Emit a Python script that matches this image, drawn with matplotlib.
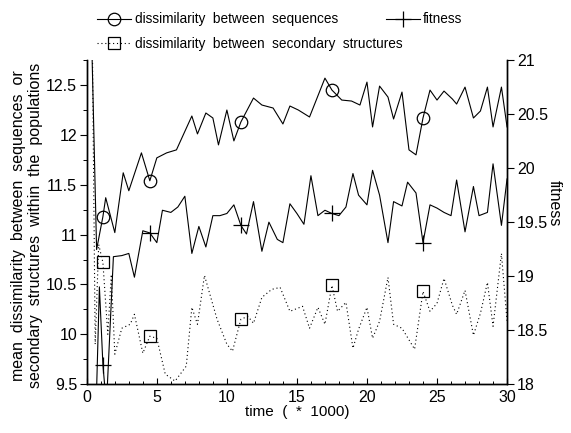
import matplotlib
matplotlib.use('Agg')
import matplotlib.pyplot as plt
from matplotlib.ticker import MultipleLocator
from matplotlib.lines import Line2D

plt.rcParams['font.family'] = ['Liberation Sans', 'DejaVu Sans']

# dissimilarity between sequences (left axis)
seq_t = [0, 0.35, 0.7, 1.15, 1.35, 2.0, 2.6, 3.0, 3.9, 4.5, 5.0, 5.7, 6.4, 7.5, 7.9,
         8.5, 9.0, 9.4, 10.0, 10.5, 11.0, 11.9, 12.5, 13.3, 14.0, 14.5, 15.1, 15.9, 17.0, 17.5,
         18.2, 18.9, 19.5, 20.0, 20.4, 20.9, 21.5, 21.9, 22.5, 23.0, 23.5, 24.0, 24.5, 25.0, 25.5,
         26.1, 26.4, 27.0, 27.6, 28.1, 28.6, 29.0, 29.6, 30.0]
seq = [12.95, 12.95, 10.85, 11.18, 11.37, 11.02, 11.62, 11.44, 11.82, 11.54, 11.77, 11.82, 11.85, 12.19, 12.01,
       12.22, 12.17, 11.90, 12.25, 11.94, 12.13, 12.37, 12.30, 12.27, 12.11, 12.29, 12.25, 12.18, 12.57, 12.45,
       12.35, 12.34, 12.30, 12.53, 12.08, 12.49, 12.38, 12.16, 12.43, 11.85, 11.80, 12.17, 12.45, 12.35, 12.44,
       12.36, 12.31, 12.48, 12.17, 12.24, 12.48, 12.08, 12.48, 12.08]

# dissimilarity between secondary structures (left axis)
st_t = [0, 0.4, 0.6, 0.85, 1.15, 1.5, 1.75, 2.0, 2.5, 3.1, 3.4, 4.0, 4.5, 5.0, 5.6,
        6.3, 7.1, 7.5, 7.9, 8.4, 9.3, 10.0, 10.4, 11.0, 11.5, 11.9, 12.5, 13.2, 13.8, 14.5,
        15.4, 15.9, 16.5, 17.0, 17.5, 17.9, 18.5, 19.0, 19.4, 20.0, 20.4, 20.9, 21.5, 21.9, 22.5,
        23.4, 24.0, 24.5, 25.0, 25.5, 26.1, 26.4, 27.0, 27.6, 28.1, 28.6, 29.0, 29.6, 30.0]
st = [12.9, 12.9, 9.9, 10.9, 10.72, 10.0, 10.6, 9.8, 10.06, 10.1, 10.2, 9.81, 9.98, 9.96, 9.6,
      9.53, 9.68, 10.27, 10.1, 10.59, 10.15, 9.9, 9.83, 10.15, 10.18, 10.11, 10.37, 10.45, 10.47, 10.23,
      10.28, 10.06, 10.27, 10.1, 10.49, 10.23, 10.32, 9.86, 10.05, 10.27, 9.96, 10.13, 10.57, 10.10, 10.06,
      9.85, 10.43, 10.23, 10.31, 10.56, 10.29, 10.20, 10.44, 9.99, 10.21, 10.52, 10.08, 10.81, 10.13]

# fitness (right axis)
fit_t = [0, 0.5, 0.9, 1.15, 1.4, 1.9, 2.5, 3.0, 3.4, 4.0, 4.5, 5.0, 5.4, 6.0, 6.5,
         7.0, 7.5, 8.0, 8.5, 9.0, 9.5, 10.0, 10.5, 11.0, 11.4, 11.9, 12.5, 13.0, 13.6, 14.0,
         14.5, 15.0, 15.5, 16.0, 16.5, 17.0, 17.5, 18.0, 18.5, 19.0, 19.4, 20.0, 20.4, 20.9, 21.5,
         21.9, 22.5, 22.9, 23.5, 24.0, 24.5, 25.0, 25.5, 26.0, 26.4, 27.0, 27.6, 28.0, 28.6, 29.0,
         29.6, 30.0]
fit = [16.5, 17.0, 18.9, 18.18, 17.8, 19.18, 19.19, 19.21, 18.99, 19.42, 19.40, 19.31, 19.61, 19.59, 19.64,
       19.74, 19.21, 19.46, 19.27, 19.56, 19.56, 19.58, 19.66, 19.47, 19.39, 19.69, 19.23, 19.50, 19.34, 19.31,
       19.67, 19.58, 19.48, 19.93, 19.56, 19.61, 19.58, 19.56, 19.64, 19.95, 19.75, 19.66, 19.98, 19.75, 19.31,
       19.69, 19.65, 19.87, 19.77, 19.31, 19.66, 19.63, 19.59, 19.56, 19.89, 19.41, 19.83, 19.56, 19.59, 20.04,
       19.47, 19.9]

# times where the symbols sit
mark_times = [1.15, 4.5, 11.0, 17.5, 24.0]

seq_label = 'dissimilarity  between  sequences'
st_label = 'dissimilarity  between  secondary  structures'
fit_label = 'fitness'

fig = plt.figure(figsize=(5.71, 4.33), dpi=100)
ax = fig.add_axes([0.152, 0.113, 0.736, 0.748])
ax2 = ax.twinx()

lw = 0.8
ax.plot(seq_t, seq, color='black', lw=lw, marker='o', ms=9, mfc='none', mew=0.9,
        markevery=[seq_t.index(t) for t in mark_times])
ax.plot(st_t, st, color='black', lw=lw, ls=(0, (1, 2.5)), marker='s', ms=8, mfc='none', mew=0.9,
        markevery=[st_t.index(t) for t in mark_times])
ax2.plot(fit_t, fit, color='black', lw=lw, marker='+', ms=11, mew=0.9,
         markevery=[fit_t.index(t) for t in mark_times])

ax.set_xlim(0, 30)
ax.set_ylim(9.5, 12.75)
ax2.set_ylim(18, 21)

ax.xaxis.set_major_locator(MultipleLocator(5))
ax.xaxis.set_minor_locator(MultipleLocator(1))
ax.yaxis.set_minor_locator(MultipleLocator(0.25))
ax.set_yticks([9.5, 10, 10.5, 11, 11.5, 12, 12.5])
ax.set_yticklabels(['9.5', '10', '10.5', '11', '11.5', '12', '12.5'])
ax2.set_yticks([18, 18.5, 19, 19.5, 20, 20.5, 21])
ax2.set_yticklabels(['18', '18.5', '19', '19.5', '20', '20.5', '21'])

for a in (ax, ax2):
    a.spines['top'].set_visible(False)
    for s in a.spines.values():
        s.set_linewidth(1.0)
ax.tick_params(axis='x', direction='in', length=4, width=0.8, labelsize=11.5, pad=4)
ax.tick_params(axis='x', which='minor', direction='in', length=2.5, width=0.7)
ax.tick_params(axis='y', direction='out', length=5, width=0.8, labelsize=11.5, pad=2)
ax.tick_params(axis='y', which='minor', direction='out', length=3, width=0.7)
ax2.tick_params(axis='y', direction='out', length=5, width=0.8, labelsize=11.5, pad=2)

ax.set_xlabel('time  (  *  1000)', fontsize=11, labelpad=0)
ax.set_ylabel('mean  dissimilarity  between  sequences  or\nsecondary  structures  within  the  populations',
              fontsize=11.5, linespacing=1.15)
ax.yaxis.set_label_coords(-0.105, 0.49)
ax2.set_ylabel(fit_label, fontsize=11.5, rotation=270)
ax2.yaxis.set_label_coords(1.13, 0.56)

h_seq = Line2D([], [], color='black', lw=lw, marker='o', ms=9, mfc='none', mew=0.9)
h_st = Line2D([], [], color='black', lw=lw, ls=(0, (1, 2.5)), marker='s', ms=8, mfc='none', mew=0.9)
h_fit = Line2D([], [], color='black', lw=lw, marker='+', ms=11, mew=0.9)

leg1 = fig.legend([h_seq, h_st], [seq_label, st_label], loc='upper left',
                  bbox_to_anchor=(0.163, 0.981), frameon=False, fontsize=9.8,
                  handlelength=2.5, handletextpad=0.25, labelspacing=0.75, borderaxespad=0.0,
                  borderpad=0.3)
leg2 = fig.legend([h_fit], [fit_label], loc='upper left',
                  bbox_to_anchor=(0.668, 0.981), frameon=False, fontsize=9.8,
                  handlelength=2.5, handletextpad=0.25, borderaxespad=0.0, borderpad=0.3)

fig.savefig('out.png', dpi=100)
